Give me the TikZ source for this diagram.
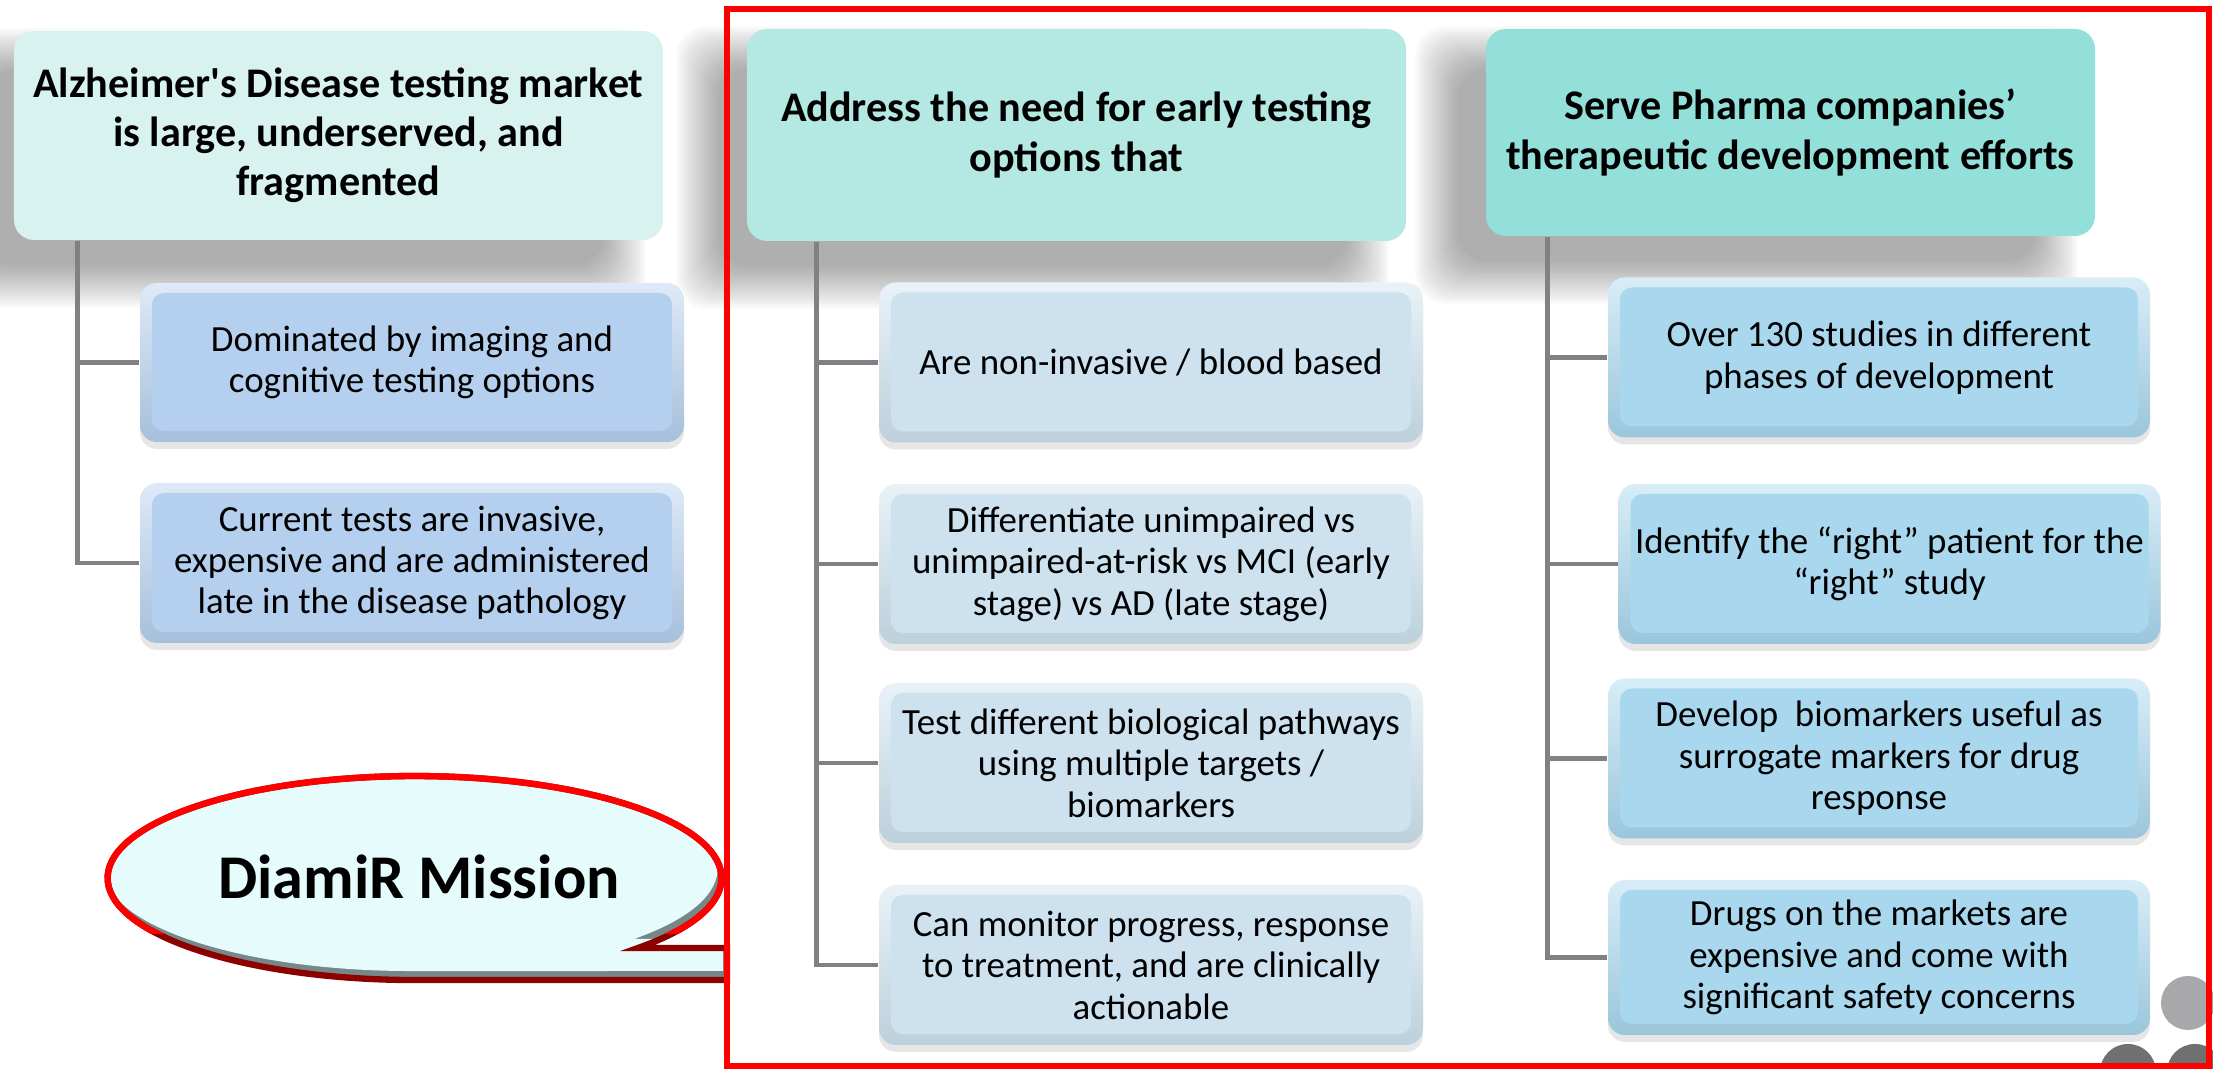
\documentclass[tikz,border=0pt]{standalone}
\usepackage{fontspec}
\setmainfont{Carlito}
\usetikzlibrary{calc,shadows,backgrounds}

\definecolor{headA}{HTML}{D8F2EF}
\definecolor{headB}{HTML}{B3E8E3}
\definecolor{headC}{HTML}{93DFD9}
\definecolor{kidA}{HTML}{B5D0EE}
\definecolor{kidB}{HTML}{CDE2EE}
\definecolor{kidC}{HTML}{A8D7EE}
\definecolor{linkgrey}{HTML}{808085}
\definecolor{bubble}{HTML}{E6FCFC}
\definecolor{bevel}{HTML}{778787}
\definecolor{dotlight}{HTML}{A8A8AA}
\definecolor{dotdark}{HTML}{707072}

\tikzset{
  head/.style={rectangle, rounded corners=0.2cm, fill=#1, minimum height=2.09cm, align=center,
    font=\fontsize{12}{14}\selectfont\bfseries},
  kid/.style={rectangle, rounded corners=0.17cm, minimum width=5.44cm, minimum height=1.6cm, align=center,
    font=\fontsize{10.5}{11.8}\selectfont, top color=#1!45!white, bottom color=#1!92!black,
    drop shadow={shadow xshift=0cm, shadow yshift=-0.07cm, opacity=0.2},
    path picture={\fill[#1, rounded corners=0.12cm]
      ([shift={(0.12,0.11)}]path picture bounding box.south west) rectangle
      ([shift={(-0.12,-0.1)}]path picture bounding box.north east);}},
  link/.style={draw=linkgrey, line width=1.4pt},
}

% soft shadow under a heading box
\newcommand\headshadow[1]{%
  \foreach \k in {0,...,15}
    \fill[black, opacity=0.025, rounded corners=0.3cm]
      ($(#1.south west)+(-0.28-0.028*\k,-0.25-0.028*\k)$) rectangle
      ($(#1.north east)+(-0.6+0.028*\k,-0.4+0.028*\k)$);}

% speech bubble with its foot on the frame
\newcommand\bubble[1]{\path[#1] (7.27,1.21) -- (6.38,1.21)
  arc[start angle=-43.3, end angle=270, x radius=3.07cm, y radius=1.02cm]
  -- (7.27,0.89) -- cycle;}

\begin{document}
\begin{tikzpicture}
  \useasboundingbox (0,0) rectangle (22.13,10.69);

  %% headings
  \node[head=headA, minimum width=6.49cm] (mkt) at (3.385,9.335)
    {Alzheimer\textquotesingle s Disease testing market\\ is large, underserved, and\\ fragmented};
  \node[head=headB, minimum width=6.59cm, minimum height=2.12cm] (need) at (10.765,9.34)
    {Address the need for early testing\\ options that};
  \node[head=headC, minimum width=6.09cm, minimum height=2.07cm] (pharma) at (17.905,9.365)
    {Serve Pharma companies'\\ therapeutic development efforts};

  %% market column
  \node[kid=kidA, minimum height=1.59cm] (lc1) at (4.12,7.065)
    {Dominated by imaging and\\ cognitive testing options};
  \node[kid=kidA] (lc2) at (4.12,5.06)
    {Current tests are invasive,\\ expensive and are administered\\ late in the disease pathology};

  %% testing column
  \node[kid=kidB] (mc1) at (11.51,7.065) {Are non-invasive / blood based};
  \node[kid=kidB] (mc2) at (11.51,5.05)
    {Differentiate unimpaired vs\\ unimpaired-at-risk vs MCI (early\\ stage) vs AD (late stage)};
  \node[kid=kidB] (mc3) at (11.51,3.06)
    {Test different biological pathways\\ using multiple targets /\\ biomarkers};
  \node[kid=kidB] (mc4) at (11.51,1.04)
    {Can monitor progress, response\\ to treatment, and are clinically\\ actionable};

  %% pharma column
  \node[kid=kidC, minimum width=5.42cm] (rc1) at (18.79,7.115)
    {Over 130 studies in different\\ phases of development};
  \node[kid=kidC, minimum width=5.42cm] (rc2) at (18.895,5.05)
    {Identify the “right” patient for the\\ “right” study};
  \node[kid=kidC, minimum width=5.42cm] (rc3) at (18.79,3.105)
    {Develop\ \ biomarkers useful as\\ surrogate markers for drug\\ response};
  \node[kid=kidC, minimum width=5.42cm, minimum height=1.55cm] (rc4) at (18.79,1.115)
    {Drugs on the markets are\\ expensive and come with\\ significant safety concerns};

  \begin{pgfonlayer}{background}
    \headshadow{mkt}
    \headshadow{need}
    \headshadow{pharma}
    \foreach \k in {lc1,lc2}
      \draw[link] ([xshift=0.64cm]mkt.south west) |- (\k.west);
    \foreach \k in {mc1,mc2,mc3,mc4}
      \draw[link] ([xshift=0.70cm]need.south west) |- (\k.west);
    \foreach \k in {rc1,rc2,rc3,rc4}
      \draw[link] ([xshift=0.62cm]pharma.south west) |- (\k.west);
  \end{pgfonlayer}

  %% mission bubble
  \bubble{fill=bevel}
  \begin{scope}
    \bubble{clip}
    \begin{scope}[shift={(-0.04,0.09)}]
      \bubble{fill=bubble}
    \end{scope}
  \end{scope}
  \bubble{draw=red!55!black, line width=1.8pt}
  \begin{scope}
    \clip (0,1.35) rectangle (8,3.2);
    \bubble{draw=red, line width=1.8pt}
  \end{scope}
  \node[font=\fontsize{17.7}{20}\selectfont\bfseries] (mission) at (4.19,1.92) {DiamiR Mission};

  %% corner dots
  \fill[dotlight] (21.88,0.66) circle (0.27);
  \fill[dotdark] (21.28,-0.03) circle (0.28);
  \fill[dotdark] (21.95,-0.03) circle (0.28);

  %% frame
  \draw[red, line width=1.7pt] (7.27,0.03) rectangle (22.09,10.60);
\end{tikzpicture}
\end{document}
